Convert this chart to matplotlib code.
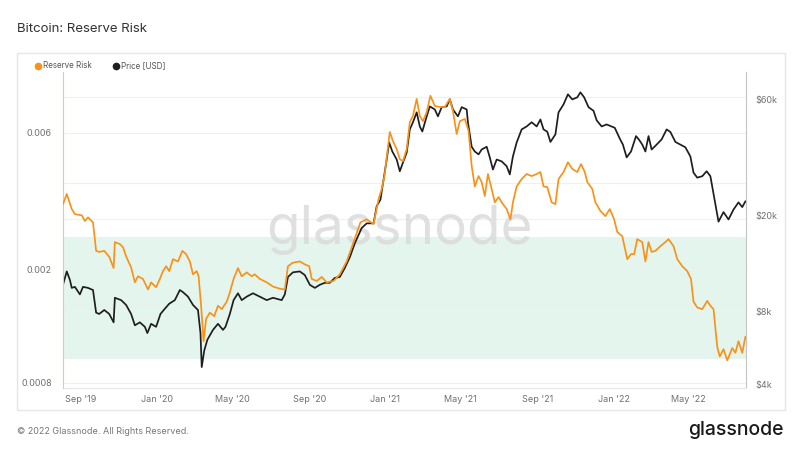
import pandas as pd
import matplotlib.pyplot as plt
import matplotlib.transforms as mtransforms
from matplotlib.patches import Rectangle
from matplotlib.lines import Line2D

plt.rcParams['font.family'] = ['Inter', 'DejaVu Sans']

# Reserve Risk (left axis, log)
rr_dates = [
    '2019-08-04', '2019-08-10', '2019-08-18', '2019-08-23', '2019-09-03', '2019-09-08', '2019-09-13',
    '2019-09-21', '2019-09-26', '2019-10-01', '2019-10-09', '2019-10-17', '2019-10-24', '2019-10-26',
    '2019-11-03', '2019-11-08', '2019-11-13', '2019-11-21', '2019-11-27', '2019-12-02', '2019-12-10',
    '2019-12-18', '2019-12-23', '2019-12-31', '2020-01-06', '2020-01-11', '2020-01-16', '2020-01-21',
    '2020-01-27', '2020-02-04', '2020-02-11', '2020-02-17', '2020-02-23', '2020-02-28', '2020-03-05',
    '2020-03-08', '2020-03-12', '2020-03-16', '2020-03-20', '2020-03-26', '2020-04-02', '2020-04-08',
    '2020-04-14', '2020-04-22', '2020-04-27', '2020-05-03', '2020-05-10', '2020-05-16', '2020-05-24',
    '2020-06-01', '2020-06-06', '2020-06-14', '2020-06-25', '2020-07-05', '2020-07-16', '2020-07-24',
    '2020-07-29', '2020-08-06', '2020-08-17', '2020-08-25', '2020-09-01', '2020-09-05', '2020-09-13',
    '2020-09-21', '2020-09-29', '2020-10-10', '2020-10-20', '2020-10-31', '2020-11-11', '2020-11-22',
    '2020-12-02', '2020-12-13', '2020-12-21', '2020-12-26', '2020-12-31', '2021-01-03', '2021-01-08',
    '2021-01-13', '2021-01-19', '2021-01-24', '2021-01-29', '2021-02-04', '2021-02-09', '2021-02-14',
    '2021-02-20', '2021-02-25', '2021-03-02', '2021-03-08', '2021-03-14', '2021-03-21', '2021-03-29',
    '2021-04-06', '2021-04-14', '2021-04-19', '2021-04-25', '2021-04-30', '2021-05-08', '2021-05-14',
    '2021-05-19', '2021-05-24', '2021-05-30', '2021-06-04', '2021-06-09', '2021-06-14', '2021-06-20',
    '2021-06-25', '2021-07-01', '2021-07-06', '2021-07-14', '2021-07-20', '2021-07-24', '2021-07-30',
    '2021-08-07', '2021-08-15', '2021-08-23', '2021-08-31', '2021-09-06', '2021-09-11', '2021-09-17',
    '2021-09-24', '2021-09-30', '2021-10-05', '2021-10-13', '2021-10-20', '2021-10-27', '2021-11-04',
    '2021-11-10', '2021-11-16', '2021-11-20', '2021-11-28', '2021-12-03', '2021-12-11', '2021-12-19',
    '2021-12-26', '2022-01-02', '2022-01-07', '2022-01-15', '2022-01-23', '2022-01-29', '2022-02-03',
    '2022-02-08', '2022-02-16', '2022-02-21', '2022-02-26', '2022-03-03', '2022-03-09', '2022-03-17',
    '2022-03-25', '2022-03-30', '2022-04-07', '2022-04-13', '2022-04-21', '2022-04-29', '2022-05-05',
    '2022-05-09', '2022-05-15', '2022-05-23', '2022-05-31', '2022-06-05', '2022-06-10', '2022-06-16',
    '2022-06-20', '2022-06-26', '2022-07-02', '2022-07-10', '2022-07-15', '2022-07-20', '2022-07-26',
    '2022-07-31',
]
rr_values = [
    0.00338, 0.00367, 0.00325, 0.00312, 0.00309, 0.00295, 0.00304,
    0.00292, 0.00232, 0.00230, 0.00232, 0.00221, 0.00202, 0.00249,
    0.00245, 0.00239, 0.00222, 0.00203, 0.00180, 0.00189, 0.00185,
    0.00170, 0.00180, 0.00173, 0.00185, 0.00197, 0.00205, 0.00197,
    0.00217, 0.00213, 0.00232, 0.00226, 0.00213, 0.00192, 0.00197,
    0.00189, 0.00149, 0.00112, 0.00134, 0.00141, 0.00137, 0.00149,
    0.00145, 0.00154, 0.00166, 0.00185, 0.00202, 0.00189, 0.00195,
    0.00189, 0.00192, 0.00185, 0.00180, 0.00174, 0.00171, 0.00170,
    0.00205, 0.00211, 0.00213, 0.00208, 0.00205, 0.00185, 0.00182,
    0.00188, 0.00180, 0.00182, 0.00192, 0.00213, 0.00249, 0.00292,
    0.00299, 0.00288, 0.00352, 0.00382, 0.00431, 0.00493, 0.00605,
    0.00562, 0.00527, 0.00486, 0.00478, 0.00527, 0.00655, 0.00688,
    0.00790, 0.00688, 0.00660, 0.00710, 0.00810, 0.00746, 0.00740,
    0.00740, 0.00790, 0.00716, 0.00595, 0.00660, 0.00672, 0.00610,
    0.00460, 0.00390, 0.00424, 0.00404, 0.00361, 0.00431, 0.00382,
    0.00343, 0.00358, 0.00343, 0.00325, 0.00299, 0.00343, 0.00390,
    0.00414, 0.00431, 0.00424, 0.00431, 0.00438, 0.00390, 0.00388,
    0.00343, 0.00338, 0.00414, 0.00438, 0.00474, 0.00449, 0.00438,
    0.00467, 0.00438, 0.00404, 0.00382, 0.00343, 0.00320, 0.00307,
    0.00325, 0.00299, 0.00270, 0.00261, 0.00217, 0.00226, 0.00226,
    0.00255, 0.00249, 0.00213, 0.00249, 0.00230, 0.00232, 0.00241,
    0.00249, 0.00255, 0.00241, 0.00217, 0.00205, 0.00197, 0.00185,
    0.00154, 0.00147, 0.00145, 0.00155, 0.00149, 0.00145, 0.00107,
    0.00099, 0.00105, 0.00096, 0.00106, 0.00102, 0.00112, 0.00102,
    0.00116,
]

# BTC price in USD (right axis, log)
price_dates = [
    '2019-08-04', '2019-08-10', '2019-08-15', '2019-08-18', '2019-08-23', '2019-08-31', '2019-09-05',
    '2019-09-13', '2019-09-21', '2019-09-26', '2019-10-01', '2019-10-09', '2019-10-17', '2019-10-24',
    '2019-10-26', '2019-11-05', '2019-11-13', '2019-11-21', '2019-11-27', '2019-12-05', '2019-12-13',
    '2019-12-17', '2019-12-23', '2019-12-31', '2020-01-07', '2020-01-14', '2020-01-21', '2020-01-30',
    '2020-02-07', '2020-02-12', '2020-02-20', '2020-02-28', '2020-03-07', '2020-03-11', '2020-03-13',
    '2020-03-17', '2020-03-22', '2020-03-31', '2020-04-08', '2020-04-16', '2020-04-20', '2020-04-27',
    '2020-05-03', '2020-05-10', '2020-05-16', '2020-05-24', '2020-06-03', '2020-06-14', '2020-06-25',
    '2020-07-05', '2020-07-19', '2020-07-24', '2020-07-29', '2020-08-06', '2020-08-17', '2020-08-25',
    '2020-09-02', '2020-09-10', '2020-09-18', '2020-09-26', '2020-10-04', '2020-10-12', '2020-10-20',
    '2020-10-28', '2020-11-05', '2020-11-13', '2020-11-24', '2020-12-02', '2020-12-13', '2020-12-18',
    '2020-12-24', '2020-12-29', '2021-01-03', '2021-01-07', '2021-01-12', '2021-01-19', '2021-01-24',
    '2021-01-29', '2021-02-04', '2021-02-09', '2021-02-14', '2021-02-20', '2021-02-25', '2021-03-01',
    '2021-03-08', '2021-03-13', '2021-03-21', '2021-03-26', '2021-04-01', '2021-04-09', '2021-04-14',
    '2021-04-19', '2021-04-27', '2021-05-03', '2021-05-11', '2021-05-13', '2021-05-19', '2021-05-24',
    '2021-05-30', '2021-06-04', '2021-06-12', '2021-06-17', '2021-06-22', '2021-06-28', '2021-07-06',
    '2021-07-14', '2021-07-19', '2021-07-24', '2021-07-30', '2021-08-07', '2021-08-15', '2021-08-23',
    '2021-08-31', '2021-09-06', '2021-09-11', '2021-09-17', '2021-09-22', '2021-09-30', '2021-10-05',
    '2021-10-13', '2021-10-20', '2021-10-27', '2021-11-04', '2021-11-09', '2021-11-15', '2021-11-22',
    '2021-11-30', '2021-12-05', '2021-12-13', '2021-12-21', '2021-12-29', '2022-01-03', '2022-01-11',
    '2022-01-16', '2022-01-22', '2022-01-29', '2022-02-06', '2022-02-11', '2022-02-16', '2022-02-21',
    '2022-02-26', '2022-03-03', '2022-03-11', '2022-03-19', '2022-03-27', '2022-04-02', '2022-04-10',
    '2022-04-18', '2022-04-26', '2022-05-04', '2022-05-09', '2022-05-15', '2022-05-23', '2022-05-30',
    '2022-06-05', '2022-06-11', '2022-06-18', '2022-06-26', '2022-07-04', '2022-07-12', '2022-07-20',
    '2022-07-26', '2022-07-31',
]
price_values = [
    10300, 11700, 10800, 10000, 10100, 9400, 10100,
    10000, 9800, 7900, 7800, 8100, 7800, 7200,
    9100, 8900, 8500, 7800, 7000, 7200, 6900,
    6500, 7100, 6900, 7800, 8200, 8600, 8900,
    9800, 9600, 9200, 8500, 8100, 6500, 4700,
    5500, 6100, 6700, 7100, 6700, 6900, 7800,
    8900, 9500, 8900, 9200, 9500, 9200, 8900,
    9100, 8900, 9400, 11100, 11600, 11700, 11300,
    10300, 10000, 10300, 10500, 10500, 11000, 11100,
    12100, 13400, 15300, 17700, 18500, 18500, 21800,
    23200, 28100, 34000, 40000, 36700, 34000, 30400,
    33000, 36300, 45300, 48500, 53300, 46600, 44400,
    51300, 56400, 54800, 51300, 56000, 56400, 60300,
    54800, 51300, 56000, 54800, 48500, 38400, 36700,
    35700, 37400, 38400, 34700, 30900, 34000, 33400,
    31900, 29500, 35000, 40000, 45300, 46600, 48500,
    46600, 49800, 45300, 44300, 40200, 43200, 53300,
    57500, 63300, 60300, 61500, 64500, 61500, 56000,
    54100, 49400, 46600, 47500, 46600, 46000, 41500,
    39200, 34700, 36700, 42500, 41000, 39200, 36700,
    42500, 37400, 39200, 41200, 45300, 44200, 40200,
    39200, 38200, 35000, 30000, 28600, 29000, 30400,
    29000, 23800, 18800, 20600, 19200, 21100, 22600,
    21600, 22800,
]

# green "buy" zone on the reserve risk axis
band_low = 0.00097
band_high = 0.0026

rr_ticks = [0.0008, 0.002, 0.006]
rr_tick_labels = ['0.0008', '0.002', '0.006']
rr_grid = [0.0008, 0.001, 0.0012, 0.0015, 0.002, 0.003, 0.004, 0.006, 0.008]
price_ticks = [4000, 8000, 20000, 60000]
price_tick_labels = ['$4k', '$8k', '$20k', '$60k']
month_ticks = ['2019-09-01', '2020-01-01', '2020-05-01', '2020-09-01', '2021-01-01',
               '2021-05-01', '2021-09-01', '2022-01-01', '2022-05-01']
month_labels = ["Sep '19", "Jan '20", "May '20", "Sep '20", "Jan '21",
                "May '21", "Sep '21", "Jan '22", "May '22"]

ORANGE = '#f7931a'
BLACK = '#1e1e1e'
TICK_COLOR = '#707070'

fig = plt.figure(figsize=(8, 4.5), dpi=100)
fig.patch.set_facecolor('white')

# card frame (below the axes)
card = Rectangle((17 / 800, 1 - 410 / 450), 768 / 800, 357 / 450, transform=fig.transFigure,
                 facecolor='white', edgecolor='#e6e6e6', linewidth=1, zorder=-5)
fig.patches.append(card)

ax = fig.add_axes([63 / 800, 1 - 388 / 450, 683 / 800, 316 / 450])
ax_rr = ax.twinx()
ax.patch.set_visible(False)
ax_rr.set_zorder(ax.get_zorder() + 1)
ax_rr.patch.set_visible(False)

# price on the lower axes, ticks on the right
ax.plot(pd.to_datetime(price_dates), price_values, color=BLACK, linewidth=1.25, zorder=3)
ax.set_yscale('log')
ax.set_ylim(3851, 78300)
ax.yaxis.tick_right()
ax.set_yticks(price_ticks)
ax.set_yticklabels(price_tick_labels)
ax.minorticks_off()

# reserve risk on top, ticks on the left
ax_rr.plot(pd.to_datetime(rr_dates), rr_values, color=ORANGE, linewidth=1.25, zorder=3)
ax_rr.set_yscale('log')
ax_rr.set_ylim(0.000768, 0.00981)
ax_rr.yaxis.tick_left()
ax_rr.set_yticks(rr_ticks)
ax_rr.set_yticklabels(rr_tick_labels)
ax_rr.minorticks_off()

# band and grid live on the lower axes but use the reserve risk scale
blend = mtransforms.blended_transform_factory(ax.transAxes, ax_rr.transData)
ax.add_patch(Rectangle((0, band_low), 1, band_high - band_low, transform=blend,
                       facecolor='#e4f5ed', edgecolor='none', zorder=0))
for g in rr_grid:
    ax.add_line(Line2D([0, 1], [g, g], transform=blend, color='#f0f0f0', linewidth=0.8, zorder=0.5))

# watermark
ax.text(0.493, 0.5, 'glassnode', transform=ax.transAxes, ha='center', va='center',
        fontsize=39.5, color='#d9d9d9', alpha=0.8, zorder=1)

ax.set_xlim(pd.Timestamp('2019-08-04'), pd.Timestamp('2022-08-01'))
ax.set_xticks(pd.to_datetime(month_ticks))
ax.set_xticklabels(month_labels)

ax.tick_params(axis='x', length=0, labelsize=6.5, colors=TICK_COLOR, pad=5)
ax.tick_params(axis='y', length=0, labelsize=6.5, colors=TICK_COLOR, pad=7)
ax_rr.tick_params(axis='y', length=0, labelsize=6.5, colors=TICK_COLOR, pad=8)

for a in (ax, ax_rr):
    a.spines['top'].set_visible(False)
ax.spines['left'].set_visible(False)
ax.spines['right'].set_color('#c4c4c4')
ax.spines['bottom'].set_color('#e6e6e6')
ax_rr.spines['right'].set_visible(False)
ax_rr.spines['bottom'].set_visible(False)
ax_rr.spines['left'].set_color('#f6c692')

# legend above the plot
handles = [
    Line2D([], [], marker='o', linestyle='none', color=ORANGE, markersize=4.5, label='Reserve Risk'),
    Line2D([], [], marker='o', linestyle='none', color=BLACK, markersize=4.5, label='Price [USD]'),
]
fig.legend(handles=handles, loc='center left', bbox_to_anchor=(28 / 800, 1 - 66 / 450), ncol=2,
           frameon=False, fontsize=5.8, labelcolor='#555555', handlelength=0.6,
           handletextpad=0.35, columnspacing=2.7)

fig.text(17 / 800, 1 - 29 / 450, 'Bitcoin: Reserve Risk', fontsize=9.5, color='#333333', va='center')
fig.text(17 / 800, 1 - 431 / 450, '\u00a9 2022 Glassnode. All Rights Reserved.', fontsize=6.5,
         color='#777777', va='center')
fig.text(784 / 800, 1 - 430 / 450, 'glassnode', fontsize=14, color='#1a1a1a', va='center',
         ha='right', fontweight='medium')

fig.savefig('out.png', dpi=100, facecolor='white')
